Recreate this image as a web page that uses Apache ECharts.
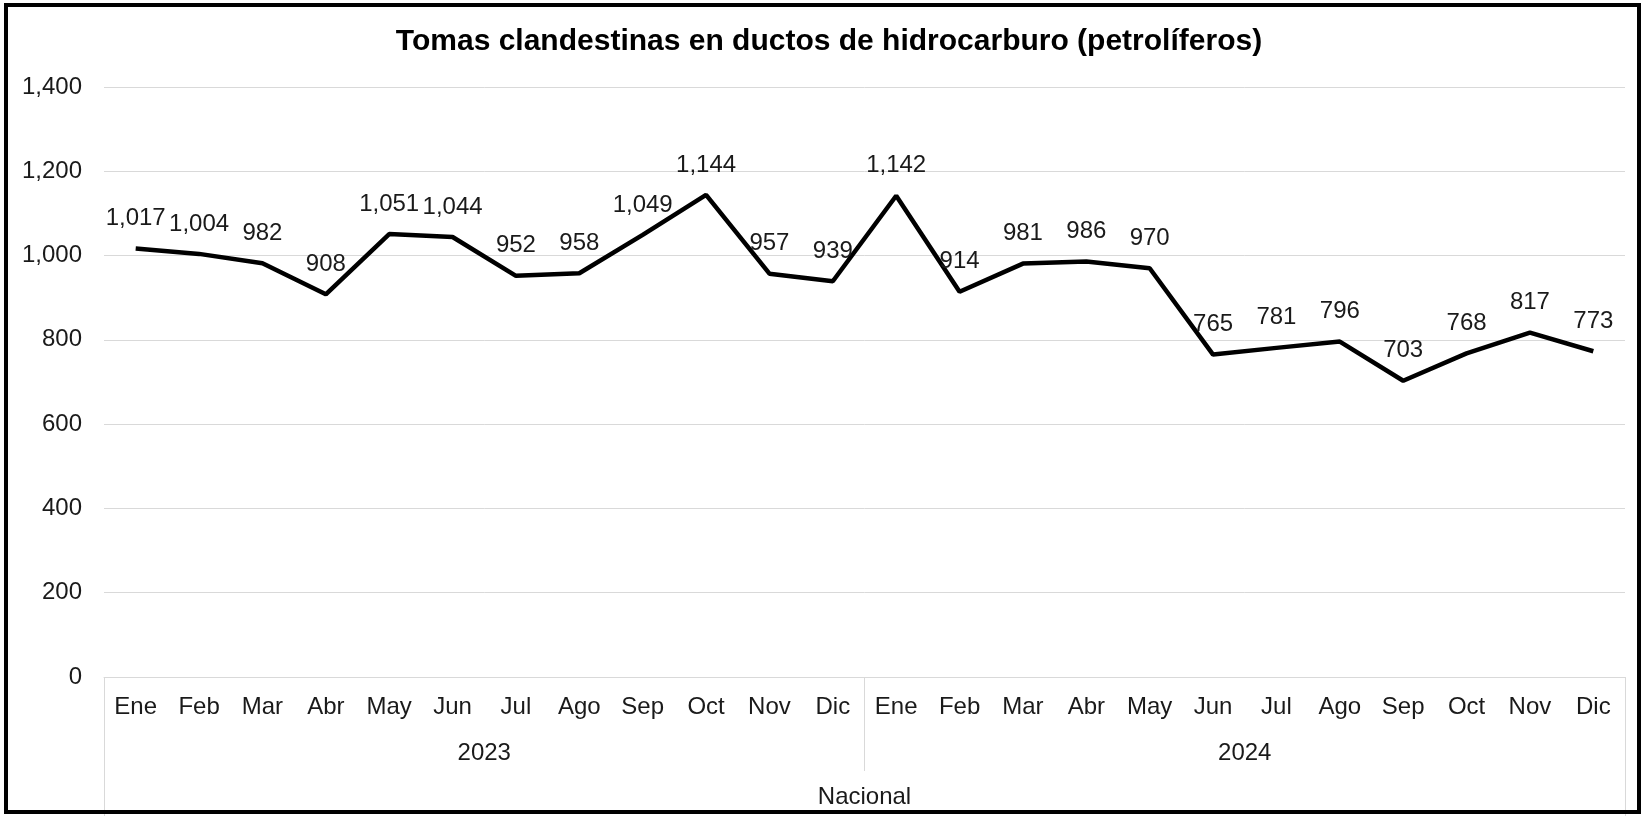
<!DOCTYPE html>
<html>
<head>
<meta charset="utf-8">
<title>Tomas clandestinas</title>
<script src="https://cdn.jsdelivr.net/npm/echarts@6/dist/echarts.min.js"></script>
<style>
  html, body { margin: 0; padding: 0; background: #fff; }
  #chart { position: absolute; left: 0; top: 0; width: 1646px; height: 816px; }
  #frame { position: absolute; left: 4px; top: 3px; width: 1637px; height: 811px;
           border: 4px solid #000; box-sizing: border-box; pointer-events: none; }
</style>
</head>
<body>
<div id="chart"></div>
<div id="frame"></div>
<script>
// Data
const months = ['Ene', 'Feb', 'Mar', 'Abr', 'May', 'Jun', 'Jul', 'Ago', 'Sep', 'Oct', 'Nov', 'Dic',
                'Ene', 'Feb', 'Mar', 'Abr', 'May', 'Jun', 'Jul', 'Ago', 'Sep', 'Oct', 'Nov', 'Dic'];
const years = ['2023', '2024'];
const regions = ['Nacional'];
const tomas = [1017, 1004, 982, 908, 1051, 1044, 952, 958, 1049, 1144, 957, 939,
               1142, 914, 981, 986, 970, 765, 781, 796, 703, 768, 817, 773];

const font = 'Arial, "Liberation Sans", sans-serif';
const textColor = '#1a1a1a';
const gridColor = '#d9d9d9';

function fmt(v) {
    return Number(v).toLocaleString('en-US');
}

const chart = echarts.init(document.getElementById('chart'), null, { renderer: 'canvas' });

chart.setOption({
    backgroundColor: '#fff',
    animation: false,
    title: {
        text: 'Tomas clandestinas en ductos de hidrocarburo (petrolíferos)',
        left: 824,
        textAlign: 'center',
        top: 22,
        textStyle: { fontFamily: font, fontSize: 30, fontWeight: 'bold', color: '#000' }
    },
    grid: { left: 104, right: 21, top: 87, bottom: 139 },
    xAxis: [
        {
            type: 'category',
            data: months,
            position: 'bottom',
            axisLine: { show: true, lineStyle: { color: gridColor, width: 1 } },
            axisTick: { show: false },
            axisLabel: { interval: 0, margin: 18, fontFamily: font, fontSize: 24, color: textColor }
        },
        {
            type: 'category',
            data: years,
            position: 'bottom',
            axisLine: { show: false },
            axisTick: { show: true, interval: 0, length: 94, lineStyle: { color: gridColor } },
            axisLabel: { interval: 0, margin: 64, fontFamily: font, fontSize: 24, color: textColor }
        },
        {
            type: 'category',
            data: regions,
            position: 'bottom',
            axisLine: { show: false },
            axisTick: { show: true, interval: 0, length: 140, lineStyle: { color: gridColor } },
            axisLabel: { interval: 0, margin: 108, fontFamily: font, fontSize: 24, color: textColor }
        }
    ],
    yAxis: {
        type: 'value',
        min: 0,
        max: 1400,
        interval: 200,
        axisLine: { show: false },
        axisTick: { show: false },
        splitLine: { lineStyle: { color: gridColor, width: 1 } },
        axisLabel: { margin: 22, fontFamily: font, fontSize: 24, color: textColor, formatter: fmt }
    },
    series: [
        {
            name: 'Nacional',
            type: 'line',
            xAxisIndex: 0,
            data: tomas,
            symbol: 'circle',
            symbolSize: 0,
            showSymbol: true,
            lineStyle: { color: '#000', width: 4.5 },
            itemStyle: { color: '#000' },
            label: {
                show: true,
                position: 'top',
                distance: 18,
                fontFamily: font,
                fontSize: 24,
                color: textColor,
                formatter: p => fmt(p.value)
            },
            labelLayout: { hideOverlap: false }
        }
    ]
});
</script>
</body>
</html>
